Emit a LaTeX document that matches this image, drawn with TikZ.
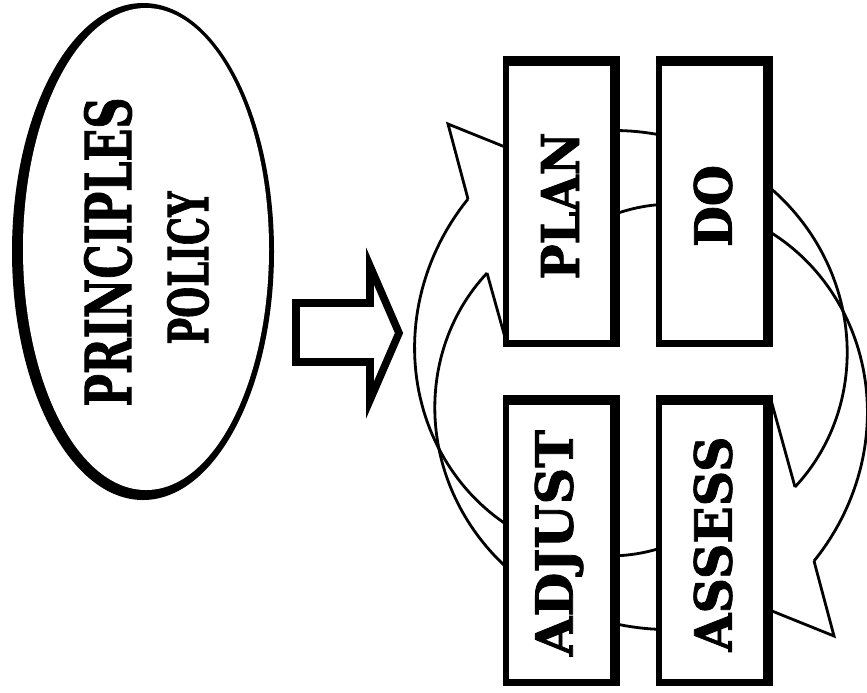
\documentclass[tikz,border=0pt]{standalone}
\usepackage{fontspec}
\usetikzlibrary{shapes.geometric}
\newfontfamily\slab[BoldFeatures={FakeBold=1.6}]{DejaVu Serif}
\begin{document}
\begin{tikzpicture}[x=0.5pt,y=-0.5pt,
  declare function={rA(\t)=248-0.485*(90-\t); rB(\t)=173+0.568*(90-\t);},
  txt/.style={inner sep=0pt, rotate=90, font=\slab\bfseries},
  boxouter/.style={fill=black, inner sep=0pt, minimum width=58.5pt, minimum height=145.5pt},
  boxinner/.style={fill=white, inner sep=0pt, minimum width=50.5pt, minimum height=137pt},
  ring/.style={line width=1.4pt, line join=miter},
  block/.style={line width=3.8pt, line join=miter}]
\useasboundingbox (0,0) rectangle (867,692);

% principles / policy oval with a heavier lower-left rim
\node[ellipse, fill=black, inner sep=0pt, minimum width=131pt, minimum height=248.5pt] (ovalrim) at (143,251.5) {};
\node[ellipse, fill=white, inner sep=0pt, minimum width=123pt, minimum height=241pt] (oval) at (146,249) {};
\node[txt] (principles) at (108,252) {\resizebox{154.5pt}{23.5pt}{PRINCIPLES}};
\node[txt] (policy) at (188,268) {\resizebox{76.5pt}{20.5pt}{POLICY}};

% block arrow towards the cycle
\draw[block] (296,303) -- (370,303) -- (370,266) -- (399,333) -- (370,400) -- (370,362) -- (296,362) -- cycle;

% twisted ribbon arrow running down the right side
\draw[ring] plot[domain=105:-34.8, samples=90, variable=\t] ({641+rA(\t)*cos(\t)},{380-rA(\t)*sin(\t)});
\draw[ring] plot[domain=105:-46.3, samples=90, variable=\t] ({641+rB(\t)*cos(\t)},{380-rB(\t)*sin(\t)});
\draw[ring] (700,582) -- (834,636) -- (814,561);
\draw[ring] (795,487) -- (771,400);

% twisted ribbon arrow running up the left side
\draw[ring] plot[domain=105:-34.8, samples=90, variable=\t] ({641-rA(\t)*cos(\t)},{380+rA(\t)*sin(\t)});
\draw[ring] plot[domain=105:-46.3, samples=90, variable=\t] ({641-rB(\t)*cos(\t)},{380+rB(\t)*sin(\t)});
\draw[ring] (582,178) -- (448,124) -- (468,199);
\draw[ring] (487,273) -- (506,341);

% the four stages
\node[boxouter] (planrim) at (561.5,201.5) {};
\node[boxinner] (planbox) at (559.5,203) {};
\node[txt] (plan) at (560,206) {\resizebox{73.5pt}{19pt}{PLAN}};

\node[boxouter] (dorim) at (714.5,201.5) {};
\node[boxinner] (dobox) at (712.5,203) {};
\node[txt] (do) at (713,206) {\resizebox{41pt}{19pt}{DO}};

\node[boxouter] (adjustrim) at (561.5,540.5) {};
\node[boxinner] (adjustbox) at (559.5,542) {};
\node[txt] (adjust) at (559,543) {\resizebox{113pt}{19pt}{ADJUST}};

\node[boxouter] (assessrim) at (714.5,540.5) {};
\node[boxinner] (assessbox) at (712.5,542) {};
\node[txt] (assess) at (713,544) {\resizebox{107.5pt}{19pt}{ASSESS}};
\end{tikzpicture}
\end{document}
